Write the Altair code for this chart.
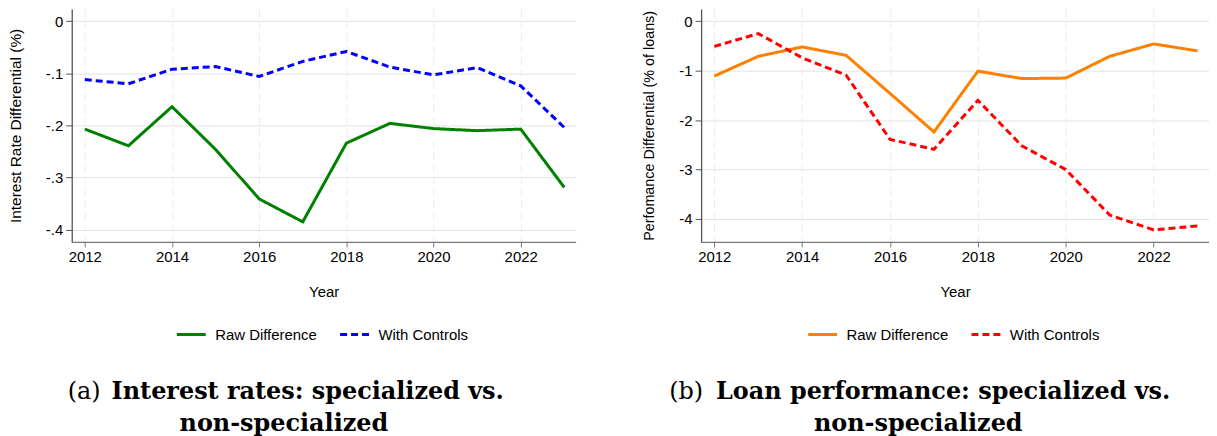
import altair as alt
import pandas as pd

years = list(range(2012, 2024))
series_names = ["Raw Difference", "With Controls"]

rate_raw = [-0.207, -0.239, -0.164, -0.246, -0.341, -0.385, -0.234, -0.196, -0.206, -0.210, -0.207, -0.319]
rate_ctrl = [-0.112, -0.120, -0.092, -0.087, -0.106, -0.077, -0.058, -0.088, -0.103, -0.089, -0.124, -0.204]
perf_raw = [-1.11, -0.71, -0.52, -0.69, -1.46, -2.24, -1.01, -1.16, -1.15, -0.71, -0.46, -0.60]
perf_ctrl = [-0.51, -0.25, -0.74, -1.09, -2.39, -2.59, -1.60, -2.52, -3.00, -3.92, -4.22, -4.14]

x_ticks = [2012, 2014, 2016, 2018, 2020, 2022]
rate_ticks = [-0.4, -0.3, -0.2, -0.1, 0]
perf_ticks = [-4, -3, -2, -1, 0]

y_titles = ["Interest Rate Differential (%)", "Perfomance Differential (% of loans)"]
caption_tags = ["(a)", "(b)"]
caption_line1 = ["Interest rates: specialized vs.", "Loan performance: specialized vs."]
caption_line2 = ["non-specialized", "non-specialized"]

SANS = "Liberation Sans"
SERIF = "DejaVu Serif"


def panel(raw, ctrl, colors, y_title, y_title_size, y_domain, y_ticks, label_expr, width,
          tag, line1, line2, tag_right, bold_left, center, legend_x):
    df = pd.DataFrame({
        "Year": years + years,
        "value": raw + ctrl,
        "series": [series_names[0]] * len(years) + [series_names[1]] * len(years),
    })
    legend = alt.Legend(
        title=None, orient="none", legendX=legend_x, legendY=311,
        direction="horizontal", symbolType="stroke", symbolSize=841,
        symbolStrokeWidth=3, labelFont=SANS, labelFontSize=15,
        labelColor="#000", labelOffset=8, columnPadding=16,
    )
    lines = alt.Chart(df).mark_line(strokeWidth=3).encode(
        x=alt.X("Year:Q",
                scale=alt.Scale(domain=[2011.70, 2023.26], nice=False, zero=False),
                axis=alt.Axis(values=x_ticks, format="d", title="Year",
                              labelFont=SANS, labelFontSize=15, labelColor="#000",
                              titleFont=SANS, titleFontSize=15, titleColor="#000",
                              titleFontWeight="normal", titlePadding=20,
                              tickSize=5, labelPadding=3, tickColor="#777",
                              domainColor="#777", domainWidth=1.3,
                              grid=True, gridColor="#ebebeb", gridDash=[8, 4],
                              gridWidth=1)),
        y=alt.Y("value:Q",
                scale=alt.Scale(domain=y_domain, nice=False, zero=False),
                axis=alt.Axis(values=y_ticks, labelExpr=label_expr, title=y_title,
                              labelFont=SANS, labelFontSize=15, labelColor="#000",
                              titleFont=SANS, titleFontSize=y_title_size, titleColor="#000",
                              titleFontWeight="normal", titlePadding=22,
                              tickSize=6, labelPadding=3, tickColor="#555",
                              domainColor="#555", domainWidth=1.3,
                              grid=True, gridColor="#e3e3e3", gridWidth=1)),
        color=alt.Color("series:N", scale=alt.Scale(domain=series_names, range=colors),
                        legend=legend),
        strokeDash=alt.StrokeDash("series:N",
                                  scale=alt.Scale(domain=series_names, range=[[1, 0], [7, 4]]),
                                  legend=legend),
    )
    one = pd.DataFrame({"tag": [tag], "l1": [line1], "l2": [line2]})
    cap_tag = alt.Chart(one).mark_text(font=SERIF, fontSize=24, align="right",
                                       baseline="alphabetic", color="#000").encode(
        text="tag:N", x=alt.value(tag_right), y=alt.value(392))
    cap_l1 = alt.Chart(one).mark_text(font=SERIF, fontSize=24, fontWeight="bold",
                                      align="left", baseline="alphabetic", color="#000").encode(
        text="l1:N", x=alt.value(bold_left), y=alt.value(392))
    cap_l2 = alt.Chart(one).mark_text(font=SERIF, fontSize=24, fontWeight="bold",
                                      align="center", baseline="alphabetic", color="#000").encode(
        text="l2:N", x=alt.value(center), y=alt.value(424))
    return alt.layer(lines, cap_tag, cap_l1, cap_l2).properties(width=width, height=234)


left = panel(rate_raw, rate_ctrl, ["#008000", "#0000ff"], y_titles[0], 15.5,
             [-0.4235, 0.0237], rate_ticks,
             "datum.value == 0 ? '0' : '-.' + format(-datum.value * 10, 'd')",
             506, caption_tags[0], caption_line1[0], caption_line2[0],
             29, 40, 213, 104)
right = panel(perf_raw, perf_ctrl, ["#ff8000", "#ff0000"], y_titles[1], 14.4,
              [-4.463, 0.249], perf_ticks,
              "datum.value == 0 ? '0' : '-' + format(-datum.value, 'd')",
              510, caption_tags[1], caption_line1[1], caption_line2[1],
              2, 15, 218, 106)

chart = alt.hconcat(left, right, spacing=66).resolve_scale(
    color="independent", strokeDash="independent"
).properties(
    padding={"left": 0, "top": 0, "right": 0, "bottom": 0}
).configure_view(strokeWidth=0)

chart.save("out.html", embed_options={"renderer": "svg", "actions": False})
